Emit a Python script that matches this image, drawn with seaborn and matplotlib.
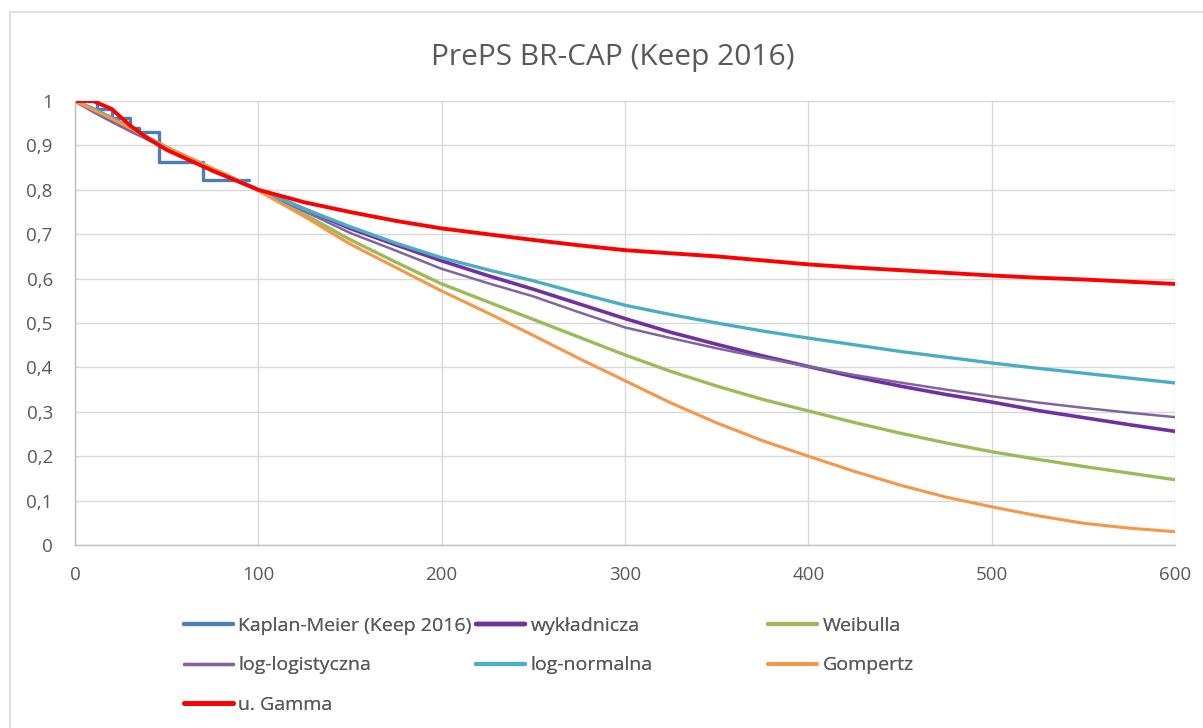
import matplotlib
matplotlib.use("Agg")
import matplotlib.pyplot as plt
from matplotlib.patches import Rectangle
from matplotlib.lines import Line2D
from matplotlib.ticker import FuncFormatter, MultipleLocator
import seaborn as sns

# Kaplan-Meier estimate (step function)
km_time = [0, 12, 20, 30, 35, 46, 70, 95]
km_surv = [1.0, 0.981, 0.962, 0.940, 0.930, 0.862, 0.822, 0.822]

# Parametric model curves, evaluated on a common time grid
time = [0, 10, 20, 30, 40, 50, 75, 100, 125, 150, 175, 200, 225, 250, 275,
        300, 325, 350, 375, 400, 425, 450, 475, 500, 525, 550, 575, 600]
wykladnicza = [1.0, 0.978, 0.956, 0.935, 0.915, 0.894, 0.846, 0.800, 0.757,
               0.713, 0.676, 0.640, 0.607, 0.576, 0.543, 0.510, 0.479,
               0.452, 0.426, 0.402, 0.379, 0.358, 0.339, 0.322, 0.303,
               0.287, 0.271, 0.256]
weibulla = [1.0, 0.982, 0.962, 0.940, 0.918, 0.896, 0.848, 0.800, 0.745,
            0.688, 0.637, 0.588, 0.548, 0.508, 0.468, 0.428, 0.391,
            0.358, 0.328, 0.302, 0.276, 0.252, 0.230, 0.210, 0.193,
            0.177, 0.162, 0.147]
log_logistyczna = [1.0, 0.975, 0.953, 0.932, 0.912, 0.893, 0.845, 0.800,
                   0.752, 0.703, 0.663, 0.622, 0.590, 0.560, 0.524, 0.490,
                   0.466, 0.443, 0.422, 0.402, 0.383, 0.366, 0.350, 0.335,
                   0.321, 0.309, 0.298, 0.288]
log_normalna = [1.0, 0.983, 0.962, 0.940, 0.917, 0.895, 0.847, 0.800, 0.757,
                0.717, 0.680, 0.647, 0.620, 0.595, 0.567, 0.540, 0.519,
                0.500, 0.482, 0.466, 0.451, 0.436, 0.423, 0.410, 0.398,
                0.387, 0.376, 0.365]
gompertz = [1.0, 0.980, 0.960, 0.939, 0.917, 0.895, 0.848, 0.798, 0.740,
            0.678, 0.625, 0.572, 0.523, 0.472, 0.420, 0.370, 0.320,
            0.275, 0.235, 0.200, 0.166, 0.135, 0.108, 0.086, 0.066,
            0.049, 0.038, 0.030]
u_gamma = [1.0, 1.0, 0.982, 0.945, 0.915, 0.890, 0.843, 0.800, 0.772,
           0.750, 0.730, 0.713, 0.700, 0.687, 0.675, 0.664, 0.657,
           0.650, 0.641, 0.632, 0.625, 0.619, 0.613, 0.607, 0.602,
           0.598, 0.593, 0.588]

title = "PrePS BR-CAP (Keep 2016)"
x_ticks = [0, 100, 200, 300, 400, 500, 600]

sns.set_theme(style="whitegrid")
fonts = ["Liberation Sans Narrow", "Open Sans", "DejaVu Sans"]
plt.rcParams["font.family"] = fonts

fig = plt.figure(figsize=(12.03, 7.28), dpi=100)
fig.patch.set_facecolor("white")

# light frame around the chart area
fig.patches.append(Rectangle((10 / 1203, -0.5), 2.0, (728 - 12) / 728 + 0.5,
                             transform=fig.transFigure, fill=False,
                             edgecolor="#D9D9D9", lw=1.2))

ax = fig.add_axes([75 / 1203, (728 - 545) / 728, 1100 / 1203, 444 / 728])
ax.set_facecolor("white")

series = [
    ("Kaplan-Meier (Keep 2016)", km_time, km_surv, "#4A7EBB", 2.4, "steps-post"),
    ("wykładnicza", time, wykladnicza, "#7030A0", 2.6, "default"),
    ("Weibulla", time, weibulla, "#9BBB59", 2.4, "default"),
    ("log-logistyczna", time, log_logistyczna, "#8064A2", 1.8, "default"),
    ("log-normalna", time, log_normalna, "#4BACC6", 2.4, "default"),
    ("Gompertz", time, gompertz, "#F79646", 2.2, "default"),
    ("u. Gamma", time, u_gamma, "#FF0000", 2.8, "default"),
]

for label, xs, ys, color, lw, ds in series:
    sns.lineplot(x=xs, y=ys, ax=ax, color=color, linewidth=lw,
                 drawstyle=ds, label=label, legend=False, sort=False)

ax.set_xlim(0, 600)
ax.set_ylim(0, 1)
ax.set_xticks(x_ticks)
ax.yaxis.set_major_locator(MultipleLocator(0.1))
ax.yaxis.set_major_formatter(
    FuncFormatter(lambda v, p: ("%g" % round(v, 1)).replace(".", ",")))
ax.grid(True, color="#D9D9D9", linewidth=1.0)
for side in ["top", "right"]:
    ax.spines[side].set_visible(False)
for side in ["left", "bottom"]:
    ax.spines[side].set_color("#BFBFBF")
    ax.spines[side].set_linewidth(1.0)
ax.tick_params(axis="both", length=0, labelsize=13.5, labelcolor="#595959")
ax.tick_params(axis="y", pad=16)
ax.tick_params(axis="x", pad=15)
ax.set_xlabel("")
ax.set_ylabel("")

fig.text(613 / 1203, (728 - 57) / 728, title, ha="center", va="center",
         fontsize=21.5, color="#595959")

# legend laid out in three equal-width columns
columns = [
    (184, [0, 3, 6]),
    (476, [1, 4]),
    (768, [2, 5]),
]
for x_px, idxs in columns:
    handles = [Line2D([], [], color=series[i][3], lw=series[i][4] + 0.6)
               for i in idxs]
    labels = [series[i][0] for i in idxs]
    leg = fig.legend(handles, labels, loc="upper left",
                     bbox_to_anchor=(x_px / 1203, (728 - 617) / 728),
                     frameon=False, fontsize=14, handlelength=2.5,
                     handletextpad=0.3, labelspacing=1.1, borderpad=0,
                     borderaxespad=0, labelcolor="#595959")
    fig.add_artist(leg)

fig.savefig("out.png", dpi=100, facecolor="white")
